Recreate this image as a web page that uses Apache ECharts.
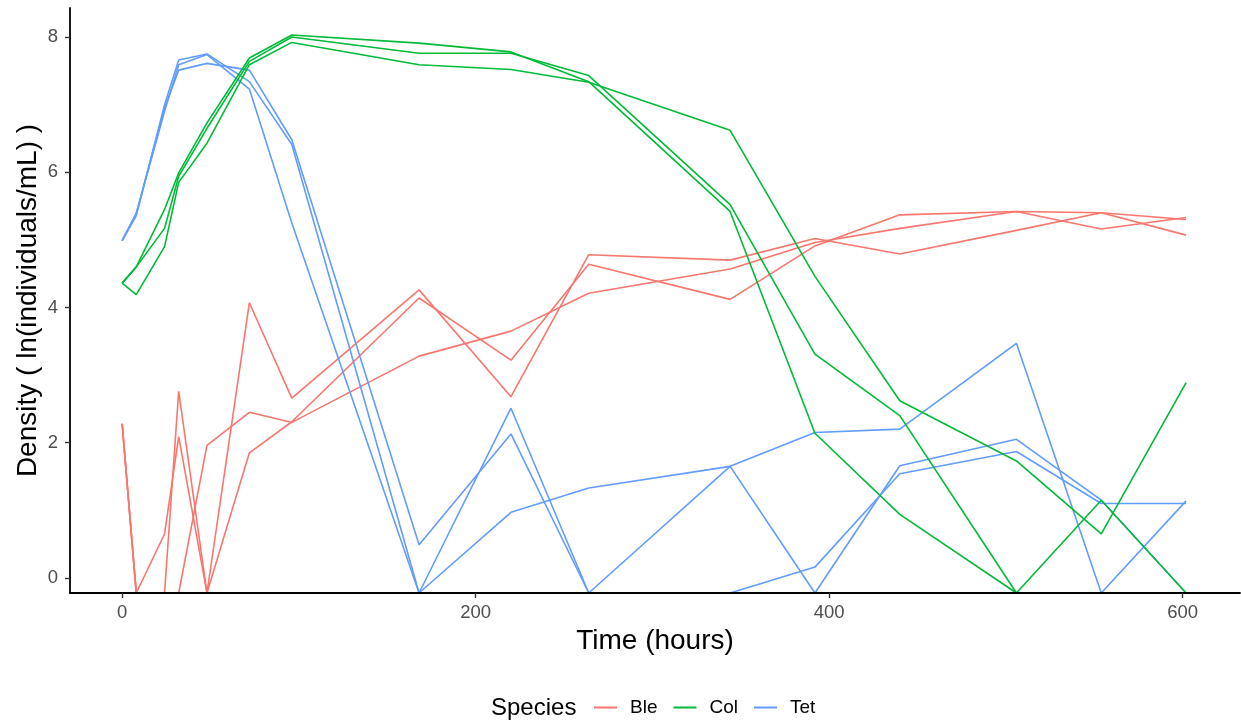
<!DOCTYPE html>
<html>
<head>
<meta charset="utf-8">
<script src="https://cdn.jsdelivr.net/npm/echarts@6/dist/echarts.min.js"></script>
<style>
html,body{margin:0;padding:0;background:#fff;}
#chart{width:1241px;height:723px;}
</style>
</head>
<body>
<div id="chart"></div>
<script>
// Sampling times (hours)
const times = [0, 8, 24, 32, 48, 72, 96, 168, 220, 264, 344, 392, 440, 506, 554, 602];
// ln(individuals/mL); zero counts plotted at ln(0.8) = -0.223
const ble1 = [2.28, -0.223, 0.65, 2.09, -0.223, 4.07, 2.66, 4.26, 2.68, 4.78, 4.70, 5.02, 4.79, 5.14, 5.40, 5.30];
const ble2 = [2.28, -0.223, -0.223, 2.76, -0.223, 1.85, 2.31, 4.14, 3.22, 4.64, 4.12, 4.91, 5.37, 5.42, 5.40, 5.07];
const ble3 = [2.28, -0.223, -0.223, -0.223, 1.96, 2.45, 2.30, 3.28, 3.65, 4.21, 4.57, 4.96, 5.17, 5.42, 5.16, 5.33];
const col1 = [4.36, 4.19, 4.90, 5.85, 6.43, 7.59, 7.92, 7.59, 7.52, 7.33, 6.62, 4.46, 2.62, 1.73, 0.65, 2.89];
const col2 = [4.36, 4.60, 5.17, 5.94, 6.65, 7.64, 8.00, 7.76, 7.76, 7.43, 5.52, 3.31, 2.40, -0.223, 1.15, -0.223];
const col3 = [4.36, 4.60, 5.45, 5.99, 6.73, 7.69, 8.03, 7.91, 7.78, 7.34, 5.42, 2.14, 0.94, -0.223, -0.223, -0.223];
const tet1 = [4.99, 5.39, 6.95, 7.51, 7.61, 7.51, 6.48, 0.49, 2.13, -0.223, 1.65, -0.223, 1.66, 2.05, 1.15, -0.223];
const tet2 = [4.99, 5.36, 7.00, 7.66, 7.75, 7.34, 6.41, -0.223, 2.51, -0.223, -0.223, 0.16, 1.54, 1.87, 1.10, 1.10];
const tet3 = [4.99, 5.39, 6.90, 7.59, 7.74, 7.23, 5.25, -0.223, 0.97, 1.33, 1.65, 2.15, 2.20, 3.47, -0.223, 1.14];

const xTicks = [0, 200, 400, 600];
const yTicks = [0, 2, 4, 6, 8];
const speciesNames = ['Ble', 'Col', 'Tet'];
const speciesColors = {Ble: '#F8766D', Col: '#00BA38', Tet: '#619CFF'};

const groups = [
  ['Ble', ble1], ['Ble', ble2], ['Ble', ble3],
  ['Tet', tet1], ['Tet', tet2], ['Tet', tet3],
  ['Col', col1], ['Col', col2], ['Col', col3]
];

const font = '"Liberation Sans", Arial, Helvetica, sans-serif';

const series = groups.map(([name, vals]) => ({
  name: name,
  type: 'line',
  data: times.map((t, i) => [t, vals[i]]),
  symbol: 'none',
  showSymbol: false,
  color: speciesColors[name],
  lineStyle: {width: 1.6, color: speciesColors[name]},
  clip: true,
  z: 2,
  animation: false
}));

const chart = echarts.init(document.getElementById('chart'), null, {renderer: 'canvas'});
chart.setOption({
  animation: false,
  backgroundColor: '#ffffff',
  grid: {left: 70, right: 1, top: 8, bottom: 130, containLabel: false},
  xAxis: {
    type: 'value',
    min: -29.5,
    max: 632.5,
    z: 5,
    splitLine: {show: false},
    axisLine: {show: true, onZero: false, lineStyle: {color: '#000', width: 1.8}},
    axisTick: {show: true, length: 5, lineStyle: {color: '#333', width: 1.4}, customValues: xTicks},
    axisLabel: {customValues: xTicks, color: '#4D4D4D', fontSize: 18.5, fontFamily: font, margin: 10},
    name: 'Time (hours)',
    nameLocation: 'middle',
    nameGap: 34,
    nameMoveOverlap: false,
    nameTextStyle: {color: '#000', fontSize: 28, fontFamily: font}
  },
  yAxis: {
    type: 'value',
    min: -0.223,
    max: 8.429,
    z: 5,
    splitLine: {show: false},
    axisLine: {show: true, onZero: false, lineStyle: {color: '#000', width: 1.8}},
    axisTick: {show: true, length: 5, lineStyle: {color: '#333', width: 1.4}, customValues: yTicks},
    axisLabel: {customValues: yTicks, color: '#4D4D4D', fontSize: 18.5, fontFamily: font, margin: 12},
    name: 'Density ( ln(individuals/mL) )',
    nameLocation: 'middle',
    nameGap: 28,
    nameMoveOverlap: false,
    nameTextStyle: {color: '#000', fontSize: 28, fontFamily: font}
  },
  legend: {
    data: speciesNames.map(n => ({name: n, icon: 'rect', itemStyle: {color: speciesColors[n]}})),
    left: 589,
    top: 693,
    itemWidth: 23,
    itemHeight: 2,
    itemGap: 16,
    selectedMode: false,
    textStyle: {color: '#000', fontSize: 19, fontFamily: font, padding: [0, 0, 0, 8]}
  },
  graphic: [{
    type: 'text',
    left: 491,
    top: 696,
    style: {text: 'Species', fill: '#000', font: '24px ' + font}
  }],
  series: series
});
</script>
</body>
</html>
